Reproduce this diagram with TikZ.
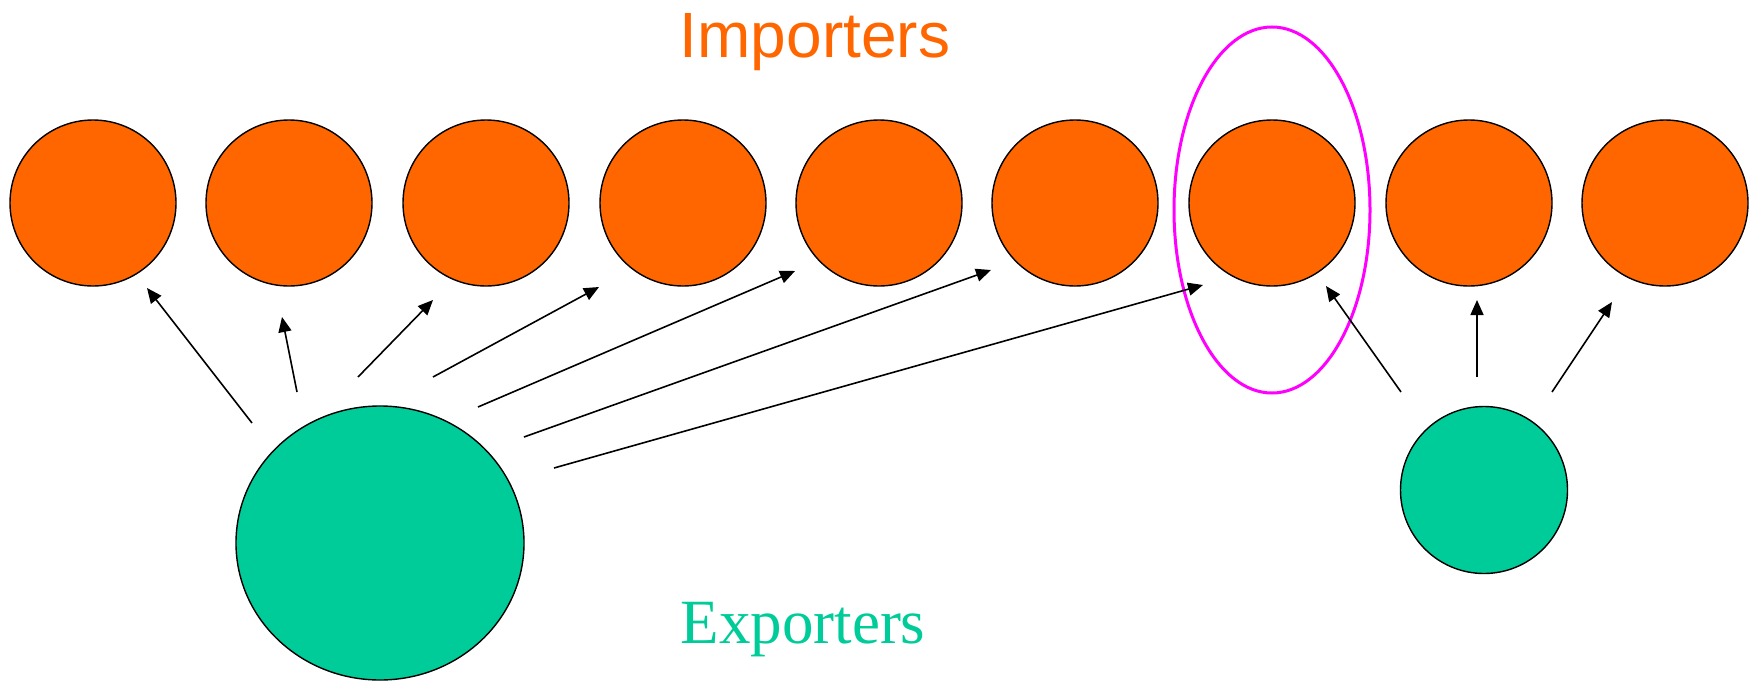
\documentclass[tikz,border=0pt]{standalone}
\usepackage{fontspec}
\setmainfont{Liberation Serif}
\newfontfamily\arialfont{Liberation Sans}
\usetikzlibrary{arrows.meta}
\definecolor{imporange}{HTML}{FF6600}
\definecolor{expgreen}{HTML}{00CC99}
\definecolor{hilite}{HTML}{FF00FF}
\begin{document}
\begin{tikzpicture}[x=1pt,y=-1pt,
  importer/.style={circle,draw=black,line width=1.4pt,fill=imporange,minimum size=166pt,inner sep=0pt},
  flow/.style={line width=1.6pt,-{Triangle[length=15pt,width=13pt]}}]
\useasboundingbox (0,0) rectangle (1758,680);
% importers
\foreach \i/\x in {1/93,2/289,3/486,4/683,5/879,6/1075,7/1272,8/1469,9/1665}{
  \node[importer] (imp\i) at (\x,203) {};
}
% exporters
\fill[expgreen,draw=black,line width=1.4pt] (380,543) ellipse [x radius=144, y radius=137];
\node[circle,draw=black,line width=1.4pt,fill=expgreen,minimum size=167pt,inner sep=0pt] (exp2) at (1484,490) {};
% highlight
\draw[hilite,line width=3pt] (1272,210) ellipse [x radius=98, y radius=183];
% labels
\node[anchor=base,inner sep=0pt,text=imporange,font=\arialfont\fontsize{64}{64}\selectfont] (limp) at (815,57) {Importers};
\node[anchor=base,inner sep=0pt,text=expgreen,font=\fontsize{63}{63}\selectfont] (lexp) at (803,643) {Exporters};
% arrow coordinates
\coordinate (s1) at (252,423); \coordinate (t1) at (147,288);
\coordinate (s2) at (297,392); \coordinate (t2) at (282,317);
\coordinate (s3) at (358,377); \coordinate (t3) at (433,300);
\coordinate (s4) at (433,377); \coordinate (t4) at (599,287);
\coordinate (s5) at (478,407); \coordinate (t5) at (795,271);
\coordinate (s6) at (524,437); \coordinate (t6) at (991,270);
\coordinate (s7) at (554,468); \coordinate (t7) at (1203,285);
\coordinate (s8) at (1401,392); \coordinate (t8) at (1326,286);
\coordinate (s9) at (1477,377); \coordinate (t9) at (1477,300);
\coordinate (s10) at (1552,392); \coordinate (t10) at (1612,302);
\foreach \i in {1,...,10}{ \draw[flow] (s\i) -- (t\i); }
\end{tikzpicture}
\end{document}
